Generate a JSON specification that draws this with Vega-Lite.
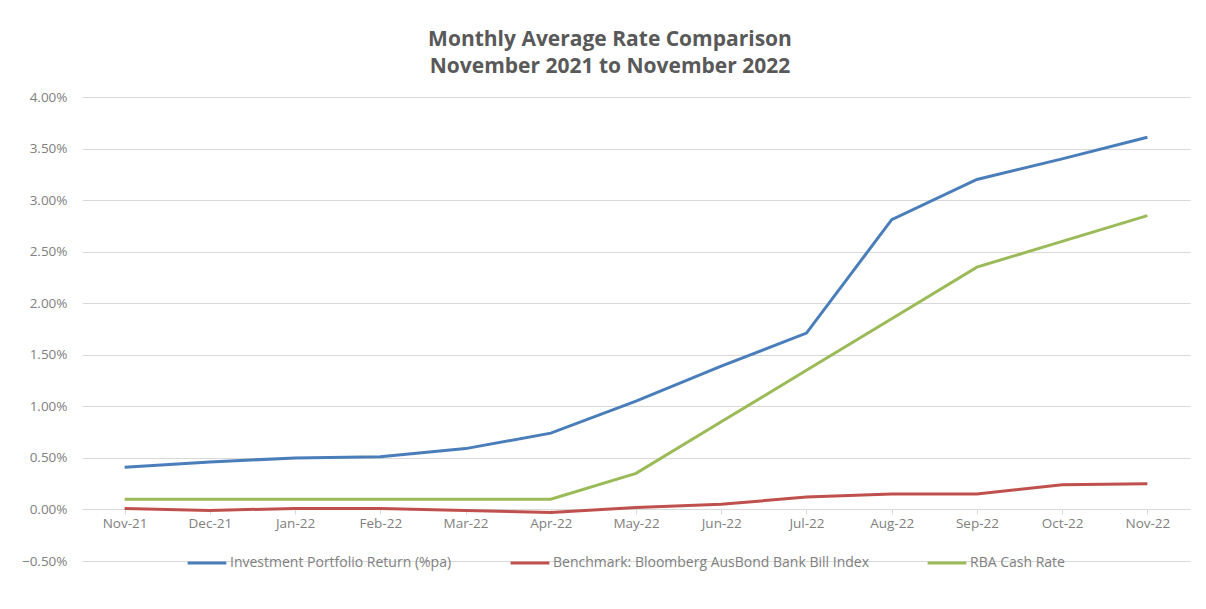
{
  "$schema": "https://vega.github.io/schema/vega-lite/v6.json",
  "autosize": "none",
  "width": 1108,
  "height": 464,
  "padding": {"left": 82, "top": 97, "right": 16, "bottom": 48},
  "background": "white",
  "title": {
    "text": ["Monthly Average Rate Comparison", "November 2021 to November 2022"],
    "font": "Open Sans",
    "fontSize": 21,
    "fontWeight": "bold",
    "color": "#595959",
    "anchor": "middle",
    "dx": -26,
    "offset": 13,
    "lineHeight": 27
  },
  "data": {
    "values": [
      {"month": "Nov-21", "series": "Investment Portfolio Return (%pa)", "rate": 0.41},
      {"month": "Dec-21", "series": "Investment Portfolio Return (%pa)", "rate": 0.46},
      {"month": "Jan-22", "series": "Investment Portfolio Return (%pa)", "rate": 0.50},
      {"month": "Feb-22", "series": "Investment Portfolio Return (%pa)", "rate": 0.51},
      {"month": "Mar-22", "series": "Investment Portfolio Return (%pa)", "rate": 0.59},
      {"month": "Apr-22", "series": "Investment Portfolio Return (%pa)", "rate": 0.74},
      {"month": "May-22", "series": "Investment Portfolio Return (%pa)", "rate": 1.05},
      {"month": "Jun-22", "series": "Investment Portfolio Return (%pa)", "rate": 1.39},
      {"month": "Jul-22", "series": "Investment Portfolio Return (%pa)", "rate": 1.71},
      {"month": "Aug-22", "series": "Investment Portfolio Return (%pa)", "rate": 2.81},
      {"month": "Sep-22", "series": "Investment Portfolio Return (%pa)", "rate": 3.20},
      {"month": "Oct-22", "series": "Investment Portfolio Return (%pa)", "rate": 3.40},
      {"month": "Nov-22", "series": "Investment Portfolio Return (%pa)", "rate": 3.61},
      {"month": "Nov-21", "series": "Benchmark: Bloomberg AusBond Bank Bill Index", "rate": 0.01},
      {"month": "Dec-21", "series": "Benchmark: Bloomberg AusBond Bank Bill Index", "rate": -0.01},
      {"month": "Jan-22", "series": "Benchmark: Bloomberg AusBond Bank Bill Index", "rate": 0.01},
      {"month": "Feb-22", "series": "Benchmark: Bloomberg AusBond Bank Bill Index", "rate": 0.01},
      {"month": "Mar-22", "series": "Benchmark: Bloomberg AusBond Bank Bill Index", "rate": -0.01},
      {"month": "Apr-22", "series": "Benchmark: Bloomberg AusBond Bank Bill Index", "rate": -0.03},
      {"month": "May-22", "series": "Benchmark: Bloomberg AusBond Bank Bill Index", "rate": 0.02},
      {"month": "Jun-22", "series": "Benchmark: Bloomberg AusBond Bank Bill Index", "rate": 0.05},
      {"month": "Jul-22", "series": "Benchmark: Bloomberg AusBond Bank Bill Index", "rate": 0.12},
      {"month": "Aug-22", "series": "Benchmark: Bloomberg AusBond Bank Bill Index", "rate": 0.15},
      {"month": "Sep-22", "series": "Benchmark: Bloomberg AusBond Bank Bill Index", "rate": 0.15},
      {"month": "Oct-22", "series": "Benchmark: Bloomberg AusBond Bank Bill Index", "rate": 0.24},
      {"month": "Nov-22", "series": "Benchmark: Bloomberg AusBond Bank Bill Index", "rate": 0.25},
      {"month": "Nov-21", "series": "RBA Cash Rate", "rate": 0.10},
      {"month": "Dec-21", "series": "RBA Cash Rate", "rate": 0.10},
      {"month": "Jan-22", "series": "RBA Cash Rate", "rate": 0.10},
      {"month": "Feb-22", "series": "RBA Cash Rate", "rate": 0.10},
      {"month": "Mar-22", "series": "RBA Cash Rate", "rate": 0.10},
      {"month": "Apr-22", "series": "RBA Cash Rate", "rate": 0.10},
      {"month": "May-22", "series": "RBA Cash Rate", "rate": 0.35},
      {"month": "Jun-22", "series": "RBA Cash Rate", "rate": 0.85},
      {"month": "Jul-22", "series": "RBA Cash Rate", "rate": 1.35},
      {"month": "Aug-22", "series": "RBA Cash Rate", "rate": 1.85},
      {"month": "Sep-22", "series": "RBA Cash Rate", "rate": 2.35},
      {"month": "Oct-22", "series": "RBA Cash Rate", "rate": 2.60},
      {"month": "Nov-22", "series": "RBA Cash Rate", "rate": 2.85}
    ]
  },
  "mark": {"type": "line", "strokeWidth": 3},
  "encoding": {
    "x": {
      "field": "month",
      "type": "ordinal",
      "sort": null,
      "scale": {"type": "point", "padding": 0.5},
      "axis": {
        "title": null,
        "labelAngle": 0,
        "offset": -52,
        "domainColor": "#d9d9d9",
        "tickColor": "#d9d9d9",
        "tickSize": 5,
        "bandPosition": 0,
        "labelFont": "Open Sans",
        "labelFontSize": 13.5,
        "labelColor": "#808080",
        "labelPadding": 2,
        "grid": false
      }
    },
    "y": {
      "field": "rate",
      "type": "quantitative",
      "scale": {"domain": [-0.5, 4.0], "nice": false, "zero": false},
      "axis": {
        "title": null,
        "values": [-0.5, 0, 0.5, 1, 1.5, 2, 2.5, 3, 3.5, 4],
        "labelExpr": "format(datum.value, '.2f') + '%'",
        "domain": false,
        "ticks": false,
        "gridColor": "#d9d9d9",
        "gridWidth": 1,
        "labelFont": "Open Sans",
        "labelFontSize": 13.5,
        "labelColor": "#808080",
        "labelPadding": 15
      }
    },
    "color": {
      "field": "series",
      "type": "nominal",
      "sort": null,
      "scale": {
        "domain": ["Investment Portfolio Return (%pa)", "Benchmark: Bloomberg AusBond Bank Bill Index", "RBA Cash Rate"],
        "range": ["#4a7ebb", "#c0504d", "#9bbb59"]
      },
      "legend": {
        "title": null,
        "orient": "none",
        "legendX": 104,
        "legendY": 445,
        "direction": "horizontal",
        "symbolType": "stroke",
        "symbolStrokeWidth": 3,
        "symbolSize": 1500,
        "labelFont": "Open Sans",
        "labelFontSize": 14,
        "labelColor": "#808080",
        "labelOffset": 2,
        "columnPadding": 52,
        "labelLimit": 450
      }
    }
  },
  "config": {"view": {"stroke": null}}
}
